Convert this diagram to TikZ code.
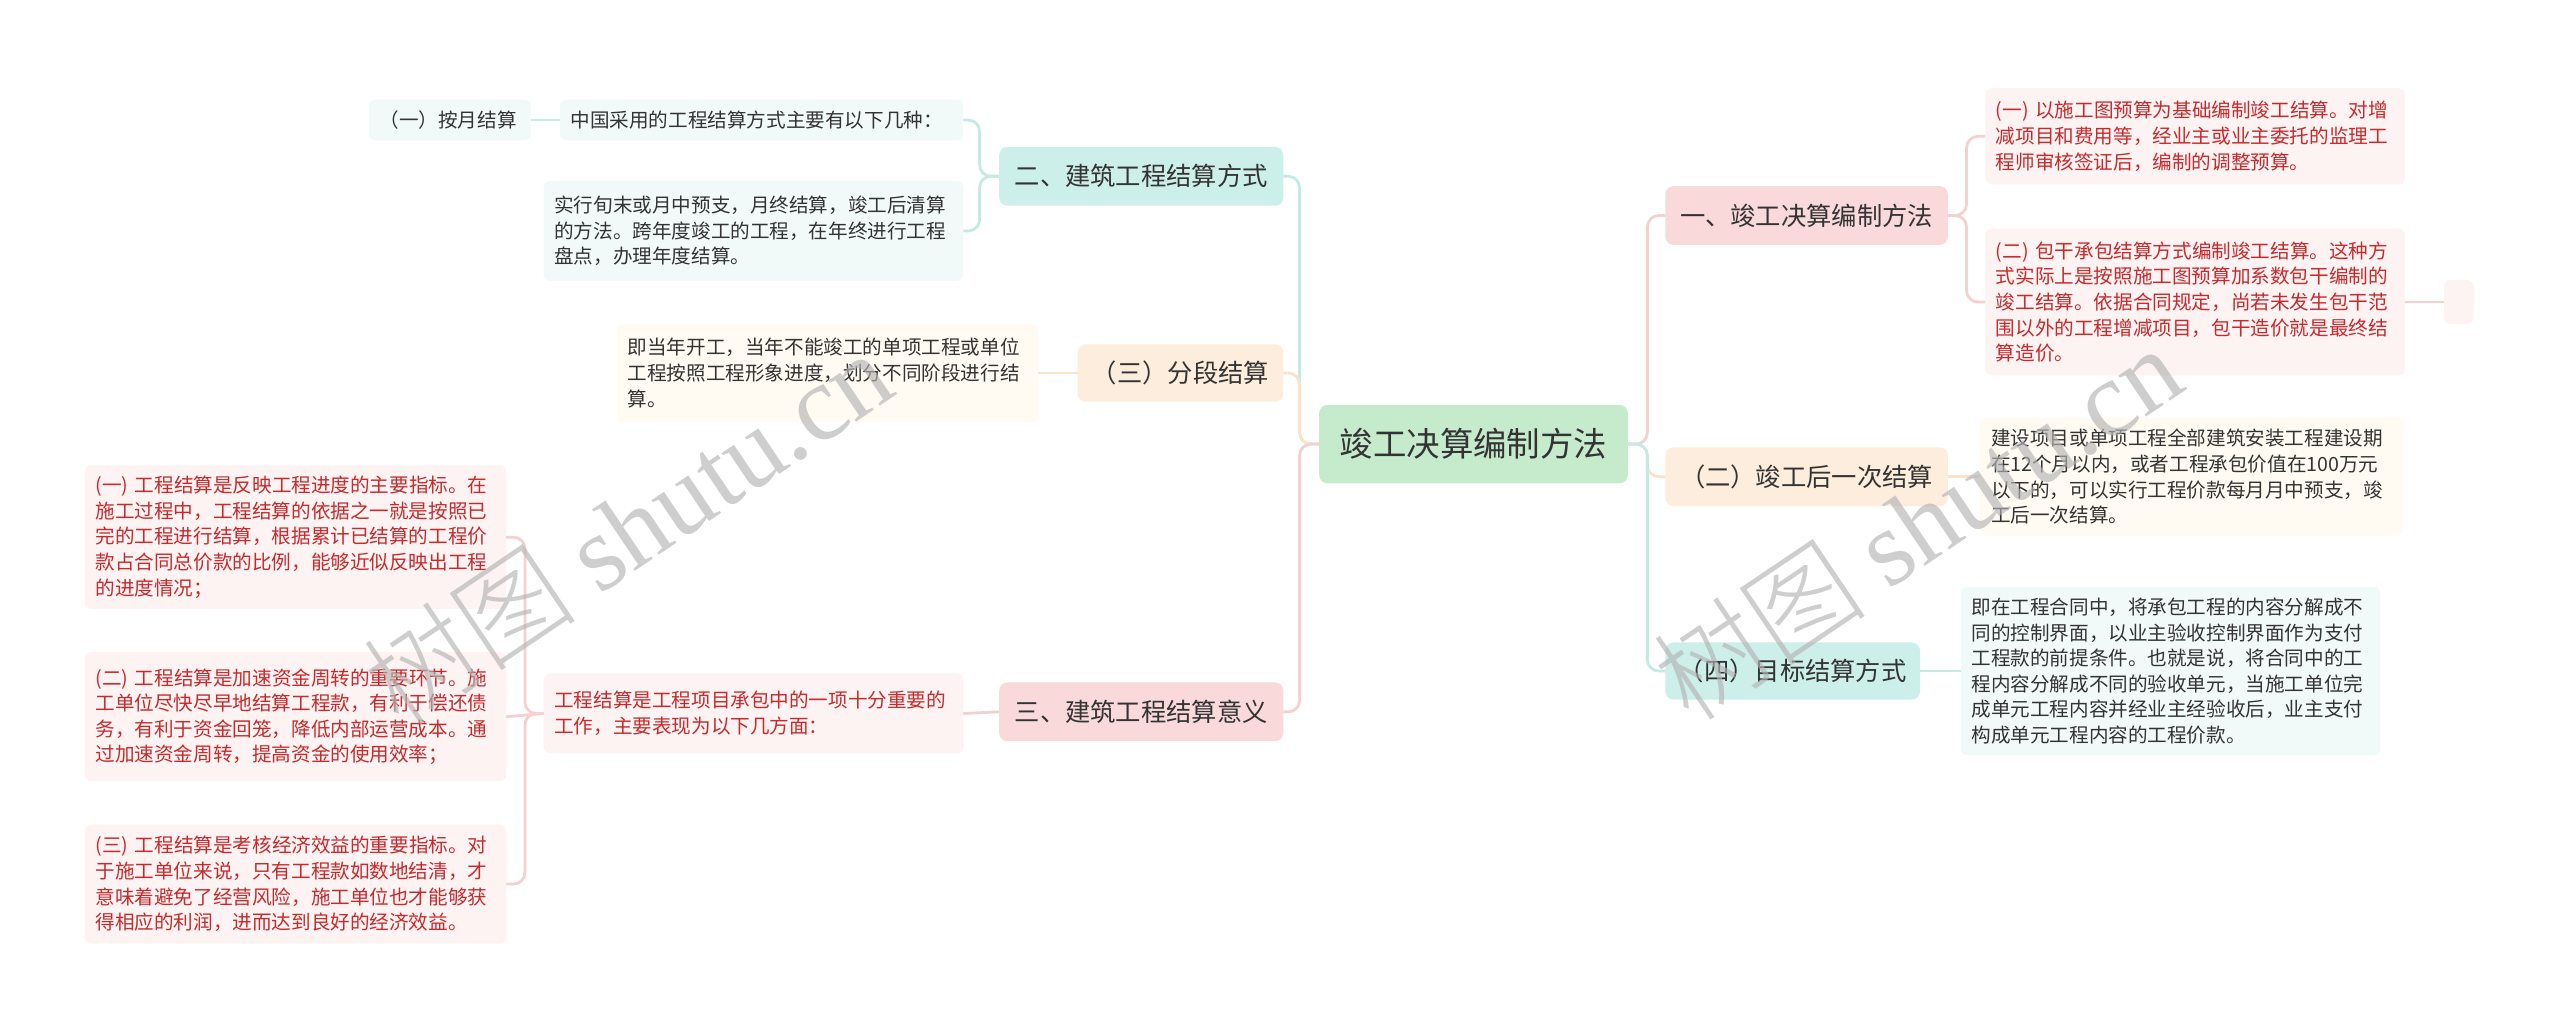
\documentclass[tikz,border=0pt]{standalone}
\usepackage{fontspec}
\newfontfamily\cjk{Noto Sans CJK SC}
\newfontfamily\cjklight{Noto Sans CJK SC Light}
\newfontfamily\wmserif{Liberation Serif}
\definecolor{txtdark}{HTML}{333333}
\definecolor{txtred}{HTML}{C62A2C}
\definecolor{cgreen}{HTML}{C6EBCC}
\definecolor{bteal}{HTML}{CCEFE9}
\definecolor{bpeach}{HTML}{FDEDDC}
\definecolor{bpink}{HTML}{F9D9D9}
\definecolor{lteal}{HTML}{F2FAF9}
\definecolor{lpeach}{HTML}{FFFAF2}
\definecolor{lpink}{HTML}{FDF3F3}
\definecolor{kteal}{HTML}{C4EAE4}
\definecolor{kpeach}{HTML}{FBE3C8}
\definecolor{kpink}{HTML}{F6D0D0}
\definecolor{wmgray}{HTML}{B4B4B4}
\begin{document}
\begin{tikzpicture}[x=1pt,y=-1pt,
  every node/.style={inner sep=0pt, outer sep=0pt},
  centernode/.style={fill=cgreen, rounded corners=5pt, minimum width=189pt, minimum height=48pt,
    text=txtdark, font=\cjk\fontsize{20.5pt}{24pt}\selectfont},
  branch/.style={rounded corners=5pt, minimum height=36pt,
    text=txtdark, font=\cjk\fontsize{15.5pt}{19pt}\selectfont},
  leaf/.style={rounded corners=4pt, inner xsep=6.5pt, inner ysep=6pt, align=left,
    text=txtdark, font=\cjk\fontsize{12pt}{15.7pt}\selectfont},
  redtext/.style={text=txtred},
  conn/.style={line width=1.7pt, rounded corners=7pt},
  wm/.style={text=wmgray, opacity=0.65, font=\cjk\fontsize{66pt}{68pt}\selectfont}
]
\fill[white] (0,0) rectangle (1568,631);
\useasboundingbox (0,0) rectangle (1568,631);

% center
\node[centernode] (C) at (902.5,272) {竣工决算编制方法};

% left branches
\node[branch, fill=bteal, minimum width=174pt] (B2) at (699,108) {二、建筑工程结算方式};
\node[branch, fill=bpeach, minimum width=126pt, minimum height=35pt] (B3p) at (723,228.5) {（三）分段结算};
\node[branch, fill=bpink, minimum width=174pt] (B3) at (699,436) {三、建筑工程结算意义};

% right branches
\node[branch, fill=bpink, minimum width=173pt] (R1) at (1106.5,132) {一、竣工决算编制方法};
\node[branch, fill=bpeach, minimum width=173pt] (R2) at (1106.5,292) {（二）竣工后一次结算};
\node[branch, fill=bteal, minimum width=156pt, minimum height=35pt] (R4) at (1098,411) {（四）目标结算方式};

% leaves of B2
\node[leaf, fill=lteal, text width=234pt, minimum height=25pt] (L21) at (466.5,73.5)
  {中国采用的工程结算方式主要有以下几种：};
\node[leaf, fill=lteal, text width=86pt, minimum height=25pt] (L211) at (275.5,73.5)
  {（一）按月结算};
\node[leaf, fill=lteal, text width=244pt, minimum height=61pt] (L22) at (461.5,141.5)
  {实行旬末或月中预支，月终结算，竣工后清算\\的方法。跨年度竣工的工程，在年终进行工程\\盘点，办理年度结算。};

% leaf of B3p
\node[leaf, fill=lpeach, text width=245pt, minimum height=60pt] (L3p) at (507,228.5)
  {即当年开工，当年不能竣工的单项工程或单位\\工程按照工程形象进度，划分不同阶段进行结\\算。};

% leaves of B3
\node[leaf, redtext, fill=lpink, text width=244pt, minimum height=49pt] (L3) at (461.5,437)
  {工程结算是工程项目承包中的一项十分重要的\\工作，主要表现为以下几方面：};
\node[leaf, redtext, fill=lpink, text width=245pt, minimum height=88pt] (L31) at (181,329)
  {(一) 工程结算是反映工程进度的主要指标。在\\施工过程中，工程结算的依据之一就是按照已\\完的工程进行结算，根据累计已结算的工程价\\款占合同总价款的比例，能够近似反映出工程\\的进度情况；};
\node[leaf, redtext, fill=lpink, text width=245pt, minimum height=79pt] (L32) at (181,439)
  {(二) 工程结算是加速资金周转的重要环节。施\\工单位尽快尽早地结算工程款，有利于偿还债\\务，有利于资金回笼，降低内部运营成本。通\\过加速资金周转，提高资金的使用效率；};
\node[leaf, redtext, fill=lpink, text width=245pt, minimum height=73pt] (L33) at (181,541.5)
  {(三) 工程结算是考核经济效益的重要指标。对\\于施工单位来说，只有工程款如数地结清，才\\意味着避免了经营风险，施工单位也才能够获\\得相应的利润，进而达到良好的经济效益。};

% leaves of R1
\node[leaf, redtext, fill=lpink, text width=244pt, minimum height=59pt] (R11) at (1344.5,83.5)
  {(一) 以施工图预算为基础编制竣工结算。对增\\减项目和费用等，经业主或业主委托的监理工\\程师审核签证后，编制的调整预算。};
\node[leaf, redtext, fill=lpink, text width=244pt, minimum height=90pt] (R12) at (1344.5,185)
  {(二) 包干承包结算方式编制竣工结算。这种方\\式实际上是按照施工图预算加系数包干编制的\\竣工结算。依据合同规定，尚若未发生包干范\\围以外的工程增减项目，包干造价就是最终结\\算造价。};
\node[fill=lpink, rounded corners=4pt, minimum width=18pt, minimum height=27pt] (RX) at (1506,185) {};

% leaf of R2
\node[leaf, fill=lpeach, text width=246pt, minimum height=72pt] (R21) at (1342.5,292)
  {建设项目或单项工程全部建筑安装工程建设期\\在12个月以内，或者工程承包价值在100万元\\以下的，可以实行工程价款每月月中预支，竣\\工后一次结算。};

% leaf of R4
\node[leaf, fill=lteal, text width=244pt, minimum height=103pt] (R41) at (1329.5,411)
  {即在工程合同中，将承包工程的内容分解成不\\同的控制界面，以业主验收控制界面作为支付\\工程款的前提条件。也就是说，将合同中的工\\程内容分解成不同的验收单元，当施工单位完\\成单元工程内容并经业主经验收后，业主支付\\构成单元工程内容的工程价款。};

% connectors: center to left branches
\draw[conn, kteal] (C.west) -- ++(-12,0) |- (B2.east);
\draw[conn, kpeach] (C.west) -- ++(-12,0) |- (B3p.east);
\draw[conn, kpink] (C.west) -- ++(-12,0) |- (B3.east);
% center to right branches
\draw[conn, kpink] (C.east) -- ++(12,0) |- (R1.west);
\draw[conn, kpeach] (C.east) -- ++(12,0) |- (R2.west);
\draw[conn, kteal] (C.east) -- ++(12,0) |- (R4.west);

% B2 children
\draw[conn, kteal] (B2.west) -- ++(-12,0) |- (L21.east);
\draw[conn, kteal] (B2.west) -- ++(-12,0) |- (L22.east);
\draw[conn, kteal] (L21.west) -- (L211.east);
% B3p child
\draw[conn, kpeach] (B3p.west) -- (L3p.east);
% B3 children
\draw[conn, kpink] (B3.west) -- (L3.east);
\draw[conn, kpink] (L3.west) -- ++(-11.5,0) |- (L31.east);
\draw[conn, kpink] (L3.west) -- (L32.east);
\draw[conn, kpink] (L3.west) -- ++(-11.5,0) |- (L33.east);
% R1 children
\draw[conn, kpink] (R1.east) -- ++(11.5,0) |- (R11.west);
\draw[conn, kpink] (R1.east) -- ++(11.5,0) |- (R12.west);
\draw[conn, kpink] (R12.east) -- (RX.west);
% R2, R4 children
\draw[conn, kpeach] (R2.east) -- (R21.west);
\draw[conn, kteal] (R4.east) -- (R41.west);

% watermarks
\node[wm, rotate=34] (wm1) at (384,323) {{\cjklight 树图} {\wmserif shutu.cn}};
\node[wm, rotate=34] (wm2) at (1174,320) {{\cjklight 树图} {\wmserif shutu.cn}};
\end{tikzpicture}
\end{document}
